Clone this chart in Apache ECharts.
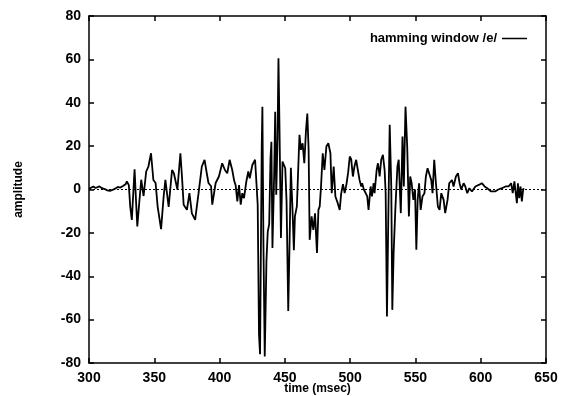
<!DOCTYPE html>
<html>
<head>
<meta charset="utf-8">
<script src="https://cdn.jsdelivr.net/npm/echarts@6/dist/echarts.min.js"></script>
<style>
  html, body { margin: 0; padding: 0; background: #fff; }
  #chart { width: 561px; height: 396px; }
</style>
</head>
<body>
<div id="chart"></div>
<script>
// time (msec) and amplitude
const times = [
  300, 301.5, 303.3, 305, 306.5, 308, 310, 312, 314, 316, 318, 320, 322, 324, 326, 328, 329, 330.5,
  331.6, 332.8, 334.9, 336, 337, 338.5, 340, 341.8, 343.8, 345.5, 347.5, 349.3, 351, 352.6, 355.2,
  357.2, 358.5, 361, 363.6, 365, 367.7, 370, 371.2, 372.5, 375, 376.9, 378.8, 381.3, 383.9, 386.4,
  388.5, 390.2, 391.5, 393.5, 394.4, 397, 399.5, 402, 404.1, 405.9, 407.7, 409.7, 411.2, 412.3,
  413.6, 414.9, 416.2, 417.4, 418.7, 420.5, 422, 423.1, 425.1, 427.2, 428.5, 429.2, 430.2, 431,
  432.3, 432.8, 433.6, 434.6, 435.9, 436.9, 438, 439, 439.7, 440.5, 441.8, 442.6, 443.4, 444.4,
  445.1, 445.9, 447, 448.2, 449.3, 450.3, 451.3, 452.6, 453.9, 454.6, 455.9, 456.9, 457.7, 459.2,
  460.3, 461.2, 462.3, 463.6, 464.9, 466.2, 467.2, 468.2, 469, 470.5, 471.8, 473.1, 474.6, 475.7,
  476.7, 477.7, 479, 480.3, 481.8, 483.3, 484.9, 485.9, 487.4, 488.7, 490.5, 492, 493.1, 494.5,
  495.8, 497.2, 498.5, 499.7, 500.8, 502.1, 503.3, 504.6, 505.9, 507.2, 508.5, 509.2, 510.5, 511.5,
  513.1, 514.1, 515.7, 516.7, 518, 518.7, 520.3, 521.3, 522.6, 523.8, 525.1, 526.4, 527.2, 528.2,
  529.2, 530.3, 531.5, 532.3, 533.3, 534.6, 536.2, 537.2, 538.8, 540.1, 541.1, 542.4, 543.7, 545,
  546, 547.1, 548.4, 549.7, 550.7, 551.7, 552.8, 554, 555.4, 556.9, 558, 559.3, 560.5, 562.1,
  563.1, 564.4, 565.7, 567.2, 568.5, 569.8, 571.6, 572.8, 574.6, 575.9, 578, 579.2, 581, 582.6,
  583.8, 585.1, 586.9, 588.2, 589.7, 591.3, 593.3, 595.9, 598.5, 600.8, 603, 605, 608, 611, 613.5,
  616.2, 619, 621.3, 623.3, 624.5, 625.8, 627.7, 628.5, 629.5, 630.5, 631.5, 632.3, 632.8
]
const amplitude = [
  0.3, 0.8, 1.4, 0.7, 1.2, 1.4, 0.6, 0.2, -0.4, -0.6, -0.2, 0.4, 1.2, 0.9, 1.6, 2.4, 3.7, 2,
  -8, -14, 9.3, -5, -17, -6, 4.5, -3, 8.3, 10.6, 16.7, 4.4, 3, -8, -18.3,
  -3, 4.4, -8, 9, 7.5, 0, 16.7, 6, -7, -9.4, -1.7, -11, -14, -1.7, 10.6,
  13.7, 7.5, 3, 1.5, -7, 3, 6, 12.1, 9, 7.5, 13.7, 9, 4, 2,
  -5.5, 2, -7, -1.7, -4, 3.7, 8.3, 5.2, 11.3, 13.7, 14.4, -7, -67, -76,
  20.5, 38.2, -25.5, -77, -33, -19.4, -16, 14.4, 22, -27, 6.8, 35.9, -2.4, 23.6,
  60.5, 28, -22.4, 12.9, 13.7, 9.8, -5.5, -56, -15, 10, -10, -28, -12.4, -7.8,
  10.6, 25.2, 18.3, 21.3, 12.1, 27.4, 35, 18.3, -23.2, -12.4, -18.6, -11, -29.3, -9.4,
  -7.8, 1.4, 16.7, 9, 19.8, 21.3, 16.7, -1.7, 10.6, -3.2, -6.3, -9.4, -2, 2.5,
  -1.7, 2.5, 8, 15.2, 14, 6, 10.6, 13.7, 9, 4.4, 1.4, 2.9, 0, 0.6,
  -3.2, -9.4, 1.4, -3.2, 2.9, -1.7, 9, 12.1, 6, 13.7, 16, 9, -1.7, -58.5,
  -14, 29.8, 1.4, -55.5, -29.3, -9.4, 10.6, 13.7, -10.9, 24.4, 1.4, 38.2, 19.8, -12.4,
  6, 2.9, -4.8, 0, -27.8, -4.8, 2.9, -9.4, -3.2, -1.7, 6, 9.8, 9, 4.4,
  -1.7, 13.7, 2.9, -7.9, -9.4, -1.7, -4.8, -10.9, -4.8, 2.9, 4.4, 1.4, 6, 7.5,
  2.9, 0, 2.9, 1.4, -1.7, 0.6, -0.9, 1.4, 2.1, 2.9, 1.4, 0.6, -0.9, -0.9, 0,
  0.6, 1.4, 1.4, 2.9, -1.7, 3.7, -6.3, 2.9, -4, 1.4, -5.5, -1, 0.6
]
const xTicks = [300, 650, 50]   // min, max, step
const yTicks = [-80, 80, 20]
const seriesName = 'hamming window /e/'

const font = 'Liberation Sans'
const points = times.map((t, i) => [t, amplitude[i]])

const frameTicks = {
    axisLine: { show: true, onZero: false, lineStyle: { color: '#000', width: 1.5 } },
    axisTick: { show: true, inside: true, length: 5, lineStyle: { color: '#000', width: 1.5 } },
    splitLine: { show: false },
}

const option = {
    animation: false,
    grid: {
        left: 89,
        right: 15,
        top: 16,
        bottom: 33,
        outerBoundsMode: 'none',
    },
    legend: {
        data: [{ name: seriesName, icon: 'rect' }],
        right: 29,
        top: 27,
        align: 'right',
        itemWidth: 25,
        itemHeight: 1.5,
        itemStyle: { color: '#000' },
        selectedMode: false,
        textStyle: { fontFamily: font, fontWeight: 'bold', fontSize: 13, color: '#000' },
    },
    xAxis: [{
        type: 'value',
        min: xTicks[0],
        max: xTicks[1],
        interval: xTicks[2],
        name: 'time (msec)',
        nameLocation: 'middle',
        nameGap: 20,
        nameMoveOverlap: false,
        nameTextStyle: { fontFamily: font, fontWeight: 'bold', fontSize: 12, color: '#000' },
        axisLabel: { fontFamily: font, fontWeight: 'bold', fontSize: 14, color: '#000', margin: 8 },
        ...frameTicks,
    }, {
        // mirrored ticks on top edge
        type: 'value',
        position: 'top',
        min: xTicks[0],
        max: xTicks[1],
        interval: xTicks[2],
        axisLabel: { show: false },
        ...frameTicks,
    }],
    yAxis: [{
        type: 'value',
        min: yTicks[0],
        max: yTicks[1],
        interval: yTicks[2],
        name: 'amplitude',
        nameLocation: 'middle',
        nameGap: 64,
        nameTextStyle: { fontFamily: font, fontWeight: 'bold', fontSize: 12, color: '#000' },
        axisLabel: { fontFamily: font, fontWeight: 'bold', fontSize: 14, color: '#000', margin: 8 },
        ...frameTicks,
    }, {
        // mirrored ticks on right edge
        type: 'value',
        position: 'right',
        min: yTicks[0],
        max: yTicks[1],
        interval: yTicks[2],
        axisLabel: { show: false },
        ...frameTicks,
    }],
    series: [{
        name: seriesName,
        type: 'line',
        data: points,
        showSymbol: false,
        lineStyle: { color: '#000', width: 1.8 },
        itemStyle: { color: '#000' },
        markLine: {
            silent: true,
            symbol: 'none',
            label: { show: false },
            lineStyle: { color: '#000', width: 1, type: [2, 2] },
            data: [{ yAxis: 0 }],
        },
    }],
}

const chart = echarts.init(document.getElementById('chart'))
chart.setOption(option, true)
</script>
</body>
</html>
